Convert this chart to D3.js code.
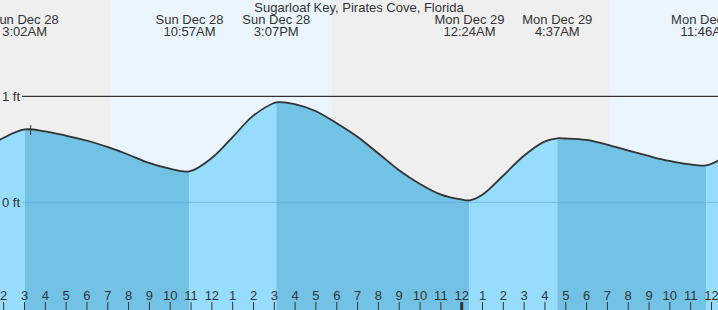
<!DOCTYPE html>
<html>
<head>
<meta charset="utf-8">
<script src="https://cdn.jsdelivr.net/npm/d3@7"></script>
<style>
  body { margin: 0; background: #fff; }
  svg text { font-family: "Liberation Sans", Arial, sans-serif; fill: #333; }
</style>
</head>
<body>
<svg id="tide-chart"></svg>
<script>
const width = 718;
const height = 310;

const title = 'Sugarloaf Key, Pirates Cove, Florida';

// tide extremes: hours since Dec 28 00:00, height in ft
const extremeTimes = [3.033, 10.95, 15.117, 24.4, 28.617, 35.767];
const extremeHeights = [0.687, 0.292, 0.943, 0.019, 0.604, 0.349];
const extremeDays = ['Sun Dec 28', 'Sun Dec 28', 'Sun Dec 28', 'Mon Dec 29', 'Mon Dec 29', 'Mon Dec 29'];
const extremeLabels = ['3:02AM', '10:57AM', '3:07PM', '12:24AM', '4:37AM', '11:46AM'];

// hourly readings of the curve
const hourTimes = [1.5, 2, 4, 5, 6, 7, 8, 9, 10, 12, 13, 14, 15, 16, 17, 18, 19, 20, 21, 22, 23, 24,
  25, 26, 27, 28, 29, 30, 31, 32, 33, 34, 35, 36.5];
const hourHeights = [0.55, 0.607, 0.67, 0.63, 0.583, 0.522, 0.451, 0.371, 0.317, 0.415, 0.611, 0.815,
  0.937, 0.927, 0.861, 0.748, 0.621, 0.465, 0.305, 0.175, 0.075, 0.027,
  0.069, 0.248, 0.437, 0.573, 0.602, 0.588, 0.545, 0.489, 0.437, 0.39, 0.357, 0.41];

// sunrise / sunset (hours)
const sunrise = [7.17, 31.13];
const sunset = [17.78];
const nowTime = 3.32;

const hourTicks = d3.range(2, 37);
const ftTicks = [0, 1];

const svg = d3.select('#tide-chart')
  .attr('width', width)
  .attr('height', height);

const x = d3.scaleLinear()
  .domain([3, 36])
  .range([24, 24 + 33 * 20.818]);

const y = d3.scaleLinear()
  .domain([0, 1])
  .range([202.3, 96.3]);

const [t0, t1] = [x.invert(-5), x.invert(width + 5)];

// background: night grey, day light blue
svg.append('rect')
  .attr('width', width).attr('height', height)
  .attr('fill', '#efefef');

const days = [[sunrise[0], sunset[0]], [sunrise[1], t1]];
svg.selectAll('rect.day')
  .data(days)
  .enter()
  .append('rect')
  .attr('class', 'day')
  .attr('x', d => x(d[0]))
  .attr('y', 0)
  .attr('width', d => x(d[1]) - x(d[0]))
  .attr('height', height)
  .attr('fill', '#ebf5fe');

// merge curve points
const points = hourTimes.map((t, i) => ({ t, h: hourHeights[i] }))
  .concat(extremeTimes.map((t, i) => ({ t, h: extremeHeights[i] })))
  .sort((a, b) => a.t - b.t);

const curve = d3.curveCatmullRom.alpha(0.5);

const area = d3.area()
  .x(d => x(d.t))
  .y0(height)
  .y1(d => y(d.h))
  .curve(curve);

const line = d3.line()
  .x(d => x(d.t))
  .y(d => y(d.h))
  .curve(curve);

// segments between extremes: falling darker, rising lighter
const bounds = [t0].concat(extremeTimes, [t1]);
const segs = d3.range(bounds.length - 1).map(i => ({
  a: bounds[i],
  b: bounds[i + 1],
  rising: i % 2 === 0
}));

const defs = svg.append('defs');
segs.forEach((s, i) => {
  defs.append('clipPath')
    .attr('id', 'seg' + i)
    .append('rect')
    .attr('x', x(s.a))
    .attr('y', 0)
    .attr('width', x(s.b) - x(s.a))
    .attr('height', height);
});

svg.selectAll('path.fill')
  .data(segs)
  .enter()
  .append('path')
  .attr('class', 'fill')
  .attr('clip-path', (d, i) => `url(#seg${i})`)
  .attr('d', area(points))
  .attr('fill', d => d.rising ? '#96dcfd' : '#72c2e6');

// 0 ft line
svg.append('line')
  .attr('x1', 22).attr('x2', width)
  .attr('y1', y(0)).attr('y2', y(0))
  .attr('stroke', '#5aa9d0')
  .attr('stroke-opacity', 0.6)
  .attr('stroke-width', 1);

// 1 ft line
svg.append('line')
  .attr('x1', 22).attr('x2', width)
  .attr('y1', y(1)).attr('y2', y(1))
  .attr('stroke', '#333')
  .attr('stroke-width', 1.2);

svg.selectAll('text.ft')
  .data(ftTicks)
  .enter()
  .append('text')
  .attr('class', 'ft')
  .attr('x', 20)
  .attr('y', d => y(d) + 4.5)
  .attr('text-anchor', 'end')
  .attr('font-size', 13)
  .text(d => d + ' ft');

// tide curve
svg.append('path')
  .attr('d', line(points))
  .attr('fill', 'none')
  .attr('stroke', '#333')
  .attr('stroke-width', 1.8);

// now marker
svg.append('line')
  .attr('x1', x(nowTime)).attr('x2', x(nowTime))
  .attr('y1', 125).attr('y2', 135)
  .attr('stroke', '#333')
  .attr('stroke-width', 1);

// hour axis
const axis = d3.axisTop(x)
  .tickValues(hourTicks)
  .tickSize(8)
  .tickPadding(2)
  .tickFormat(d => (d % 12) || 12);

const gAxis = svg.append('g')
  .attr('transform', `translate(0, ${height})`)
  .call(axis);
gAxis.select('.domain').remove();
gAxis.selectAll('line').attr('stroke', '#333');
gAxis.selectAll('.tick')
  .filter(d => d % 24 === 0)
  .select('line')
  .attr('stroke-width', 3);
gAxis.selectAll('text')
  .attr('font-size', 13)
  .attr('font-family', '"Liberation Sans", Arial, sans-serif')
  .attr('fill', '#333');

// title
svg.append('text')
  .attr('x', 359)
  .attr('y', 12)
  .attr('text-anchor', 'middle')
  .attr('font-size', 13)
  .text(title);

// extreme labels
const lab = svg.selectAll('g.ext')
  .data(extremeTimes)
  .enter()
  .append('g')
  .attr('class', 'ext')
  .attr('transform', d => `translate(${x(d)}, 0)`);
lab.append('text')
  .attr('y', 24)
  .attr('text-anchor', 'middle')
  .attr('font-size', 13)
  .text((d, i) => extremeDays[i]);
lab.append('text')
  .attr('y', 36)
  .attr('text-anchor', 'middle')
  .attr('font-size', 13)
  .text((d, i) => extremeLabels[i]);
</script>
</body>
</html>
